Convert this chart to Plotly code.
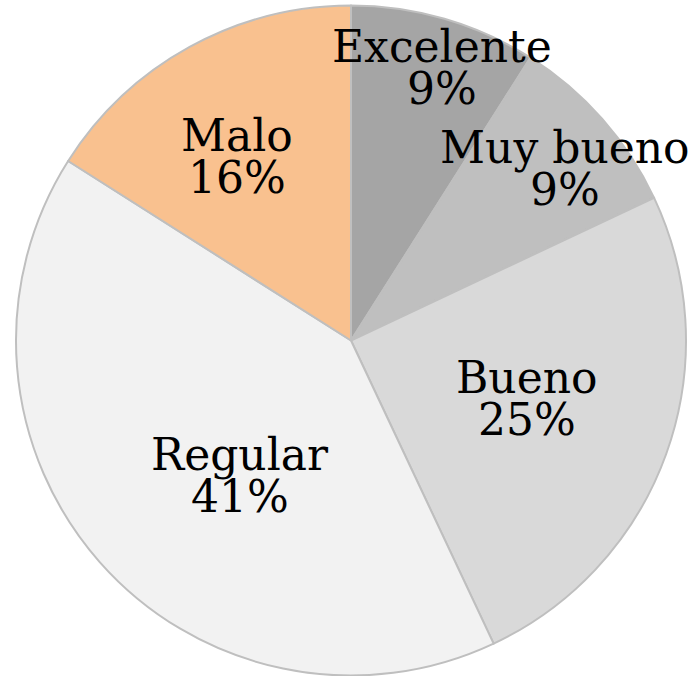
import math
import plotly.graph_objects as go

# Ratings and their share of responses (percent)
categorias = ["Excelente", "Muy bueno", "Bueno", "Regular", "Malo"]
porcentajes = [9, 9, 25, 41, 16]
colores = ["#A5A5A5", "#BFBFBF", "#D9D9D9", "#F2F2F2", "#F9C18F"]
# label placement: distance from centre (fraction of radius) and a small
# angular nudge (degrees) away from the slice's mid-angle
radio_etiqueta = [0.86, 0.82, 0.553, 0.521, 0.646]
giro_etiqueta = [2.2, 2.7, -1.7, -9.1, -3.0]

W, H = 691, 676
dom_x = [16 / W, 686 / W]
dom_y = [0.0, 671 / H]

fig = go.Figure(go.Pie(
    labels=categorias,
    values=porcentajes,
    sort=False,
    direction="clockwise",
    rotation=0,
    marker=dict(colors=colores, line=dict(color="#BFBFBF", width=2)),
    textinfo="none",
    hoverinfo="label+percent",
    showlegend=False,
    domain=dict(x=dom_x, y=dom_y),
))

# pie geometry in pixels
cx = (dom_x[0] + dom_x[1]) / 2 * W
cy = (1 - (dom_y[0] + dom_y[1]) / 2) * H
r = min((dom_x[1] - dom_x[0]) * W, (dom_y[1] - dom_y[0]) * H) / 2

total = sum(porcentajes)
acum = 0
fuente = dict(family="DejaVu Serif", size=44, color="#000000")
for cat, val, fr, giro in zip(categorias, porcentajes, radio_etiqueta, giro_etiqueta):
    medio = math.radians((acum + val / 2) / total * 360 + giro)
    acum += val
    px = cx + fr * r * math.sin(medio)
    py = cy - fr * r * math.cos(medio)
    x, y = px / W, 1 - py / H
    pct = f"{round(val / total * 100)}%"
    fig.add_annotation(x=x, y=y, xref="paper", yref="paper", text=cat,
                       showarrow=False, font=fuente, yshift=21,
                       xanchor="center", yanchor="middle")
    fig.add_annotation(x=x, y=y, xref="paper", yref="paper", text=pct,
                       showarrow=False, font=fuente, yshift=-21,
                       xanchor="center", yanchor="middle")

fig.update_layout(
    width=W, height=H,
    margin=dict(l=0, r=0, t=0, b=0),
    paper_bgcolor="#FFFFFF",
    plot_bgcolor="#FFFFFF",
)

fig.write_html("out.html")
